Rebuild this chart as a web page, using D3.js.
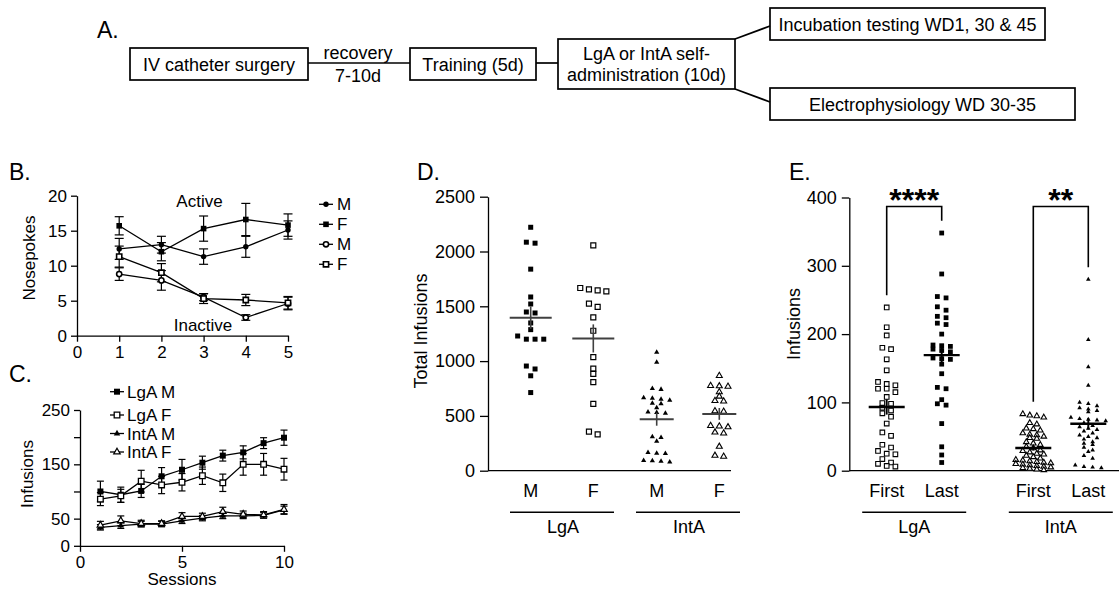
<html>
<head>
<meta charset="utf-8">
<script src="https://d3js.org/d3.v7.min.js"></script>
<style>
  body { margin: 0; background: #fff; }
  svg { font-family: "Liberation Sans", Arial, sans-serif; }
</style>
</head>
<body>
<script>
// ---------------- data ----------------
// A. timeline
var stepLabels = ["IV catheter surgery", "Training (5d)", "LgA or IntA self-|administration (10d)",
                  "Incubation testing WD1, 30 & 45", "Electrophysiology WD 30-35"];
var recoveryLabel = ["recovery", "7-10d"];

// B. nosepokes during training (mean, sem)
var sessionsB = [1, 2, 3, 4, 5];
var activeM = [12.4, 13.0, 11.3, 12.7, 15.1];
var activeMErr = [1.5, 1.2, 1.1, 1.5, 1.3];
var activeF = [15.7, 12.0, 15.3, 16.6, 15.8];
var activeFErr = [1.3, 1.3, 1.8, 2.3, 1.6];
var inactiveM = [8.8, 7.9, 5.5, 2.6, 4.6];
var inactiveMErr = [0.9, 1.4, 0.5, 0.4, 0.9];
var inactiveF = [11.3, 9.0, 5.3, 5.1, 4.7];
var inactiveFErr = [1.5, 1.3, 0.7, 0.8, 0.9];
var legendB = ["M", "F", "M", "F"];
var ticksBx = [0, 1, 2, 3, 4, 5];
var ticksBy = [0, 5, 10, 15, 20];

// C. infusions per session
var sessionsC = [1, 2, 3, 4, 5, 6, 7, 8, 9, 10];
var lgaM = [100, 94, 101, 128, 140, 153, 166, 172, 189, 199];
var lgaMErr = [19, 14, 12, 16, 19, 12, 10, 12, 10, 14];
var lgaF = [86, 92, 119, 112, 117, 129, 116, 150, 150, 141];
var lgaFErr = [12, 12, 20, 16, 16, 16, 16, 20, 20, 20];
var intaM = [34, 37, 40, 40, 46, 51, 55, 55, 56, 66];
var intaMErr = [5, 5, 5, 5, 5, 5, 5, 5, 5, 7];
var intaF = [38, 46, 41, 41, 54, 54, 63, 58, 57, 67];
var intaFErr = [7, 9, 6, 5, 7, 6, 8, 6, 6, 9];
var legendC = ["LgA M", "LgA F", "IntA M", "IntA F"];
var ticksCx = [0, 5, 10];
var ticksCy = [0, 50, 100, 150, 200, 250];
var labelsCy = [0, 50, 150, 250];

// D. total infusions per rat
var groupsD = ["LgA", "IntA"];
var sexD = ["M", "F"];
var dLgaM = [2221, 2085, 2076, 1839, 1585, 1521, 1448, 1439, 1348, 1287, 1229, 1200, 1200, 1200, 955, 928, 866, 713];
var dLgaF = [2055, 1667, 1655, 1645, 1636, 1524, 1494, 1399, 1277, 1037, 931, 884, 808, 610, 357, 332];
var dIntaM = [1080, 990, 750, 742, 665, 660, 652, 642, 615, 610, 575, 535, 530, 525, 310, 302, 268, 165, 160, 158, 92, 90, 86, 80];
var dIntaF = [866, 775, 772, 768, 718, 678, 638, 634, 545, 540, 410, 405, 398, 350, 342, 220, 138, 130];
var ticksDy = [0, 500, 1000, 1500, 2000, 2500];

// E. infusions, first vs last session
var groupsE = ["LgA", "IntA"];
var daysE = ["First", "Last"];
var eLgaFirst = [239, 210, 198, 180, 178, 163, 147, 130, 127, 125, 120, 120, 115, 108, 99, 98, 92, 88, 84, 79, 69, 56, 51, 38, 34, 29, 25, 24, 17, 12, 10, 7, 6];
var eLgaLast = [348, 288, 255, 253, 240, 235, 226, 224, 216, 214, 200, 184, 183, 182, 178, 176, 174, 165, 164, 163, 156, 142, 122, 120, 104, 98, 96, 69, 35, 23, 12];
var eIntaFirst = [83, 81, 80, 78, 70, 68, 62, 61, 59, 55, 53, 52, 50, 48, 47, 42, 40, 38, 35, 33, 30, 29, 27, 25, 24, 22, 20, 18, 16, 15, 14, 13, 12, 11, 10, 9, 8, 7, 6, 5, 4, 3, 2, 1];
var eIntaLast = [280, 192, 152, 125, 100, 98, 95, 92, 90, 88, 86, 78, 76, 75, 74, 73, 70, 66, 64, 62, 60, 58, 55, 52, 50, 48, 46, 42, 40, 38, 34, 30, 28, 22, 18, 8, 6, 5, 4];
var ticksEy = [0, 100, 200, 300, 400];
var starsE = ["****", "**"];

// ---------------- helpers ----------------
var svg = d3.select("body").append("svg")
    .attr("width", 1119)
    .attr("height", 594);

var intFmt = d3.format("d");

function sq(s) { return d3.symbol().type(d3.symbolSquare).size(s * s)(); }
function ci(r) { return d3.symbol().type(d3.symbolCircle).size(Math.PI * r * r)(); }
function tri(a) { return d3.symbol().type(d3.symbolTriangle).size(Math.sqrt(3) / 4 * a * a)(); }

function styleAxis(g, fs) {
    g.attr("font-family", null).attr("font-size", fs);
    g.selectAll("path, line").attr("stroke", "#000").attr("stroke-width", 1.3);
    g.selectAll("text").attr("fill", "#000");
}

function marker(g, m, x, y) {
    return g.append("path")
        .attr("d", m.d)
        .attr("transform", "translate(" + x + "," + y + ")")
        .attr("fill", m.fill)
        .attr("stroke", m.sw ? "#000" : "none")
        .attr("stroke-width", m.sw);
}

// line + sem error bars for one series
function lineSeries(g, xs, s, x, y, cap) {
    g.append("path").datum(s.v)
        .attr("d", d3.line().x(function(d, i) { return x(xs[i]); }).y(function(d) { return y(d); }))
        .attr("fill", "none").attr("stroke", "#000").attr("stroke-width", 1.3);
    var eb = g.append("g").attr("stroke", "#000").attr("stroke-width", 1.2);
    s.v.forEach(function(v, i) {
        var cx = x(xs[i]);
        eb.append("line").attr("x1", cx).attr("x2", cx).attr("y1", y(v - s.e[i])).attr("y2", y(v + s.e[i]));
        [v - s.e[i], v + s.e[i]].forEach(function(w) {
            eb.append("line").attr("x1", cx - cap).attr("x2", cx + cap).attr("y1", y(w)).attr("y2", y(w));
        });
    });
}

// prism-like scatter: points close in y share a row and are spread sideways
function swarm(values, y, gap, binPx) {
    var pts = values.map(function(v) { return {v: v, py: y(v)}; }).sort(function(a, b) { return a.py - b.py; });
    var rows = [];
    pts.forEach(function(p) {
        var last = rows[rows.length - 1];
        if (last && p.py - last[0].py < binPx) last.push(p); else rows.push([p]);
    });
    rows.forEach(function(r) { r.forEach(function(p, i) { p.dx = (i - (r.length - 1) / 2) * gap; }); });
    return pts;
}

function dotPlot(g, values, cx, y, m, hw, meanColor, meanW, gap) {
    swarm(values, y, gap || 8.7, 4).forEach(function(p) { marker(g, m, cx + p.dx, p.py); });
    var mean = d3.mean(values), sem = d3.deviation(values) / Math.sqrt(values.length);
    g.append("line").attr("x1", cx - hw).attr("x2", cx + hw).attr("y1", y(mean)).attr("y2", y(mean))
        .attr("stroke", meanColor).attr("stroke-width", meanW);
    g.append("line").attr("x1", cx).attr("x2", cx).attr("y1", y(mean - sem)).attr("y2", y(mean + sem))
        .attr("stroke", meanColor).attr("stroke-width", meanW * 0.8);
}

// ---------------- A. timeline ----------------
var A = svg.append("g").attr("font-size", 18);
A.append("text").attr("x", 97).attr("y", 38).attr("font-size", 23).text("A.");
function boxA(x, y, w, h) {
    A.append("rect").attr("x", x).attr("y", y).attr("width", w).attr("height", h)
        .attr("fill", "none").attr("stroke", "#000").attr("stroke-width", 1.7);
}
function linkA(x1, y1, x2, y2) {
    A.append("line").attr("x1", x1).attr("y1", y1).attr("x2", x2).attr("y2", y2)
        .attr("stroke", "#000").attr("stroke-width", 1.7);
}
function textA(x, y, t) {
    A.append("text").attr("x", x).attr("y", y).attr("text-anchor", "middle").text(t);
}
boxA(130, 48, 178, 32); textA(219, 70.5, stepLabels[0]);
linkA(308, 63, 410, 63); textA(358, 59, recoveryLabel[0]); textA(358, 82, recoveryLabel[1]);
boxA(410, 48, 126, 32); textA(473, 70.5, stepLabels[1]);
linkA(536, 63, 558, 63);
boxA(558, 39, 177, 50);
textA(646.5, 60, stepLabels[2].split("|")[0]);
textA(646.5, 81, stepLabels[2].split("|")[1]);
linkA(735, 39, 770, 26); boxA(770, 8, 275, 32); textA(907.5, 30.5, stepLabels[3]);
linkA(735, 89, 770, 102); boxA(770, 88, 305, 32); textA(922.5, 110.5, stepLabels[4]);

// ---------------- B. nosepokes ----------------
var xB = d3.scaleLinear().domain([0, 5]).range([77, 288]);
var yB = d3.scaleLinear().domain([0, 20]).range([335.7, 195.7]);
var B = svg.append("g").attr("font-size", 17);
B.append("text").attr("x", 9).attr("y", 180).attr("font-size", 23).text("B.");
B.append("g").attr("transform", "translate(0," + yB(0) + ")")
    .call(d3.axisBottom(xB).tickValues(ticksBx).tickFormat(intFmt).tickSize(6).tickPadding(4).tickSizeOuter(0))
    .call(styleAxis, 17);
B.append("g").attr("transform", "translate(" + xB(0) + ",0)")
    .call(d3.axisLeft(yB).tickValues(ticksBy).tickFormat(intFmt).tickSize(6).tickPadding(4).tickSizeOuter(0))
    .call(styleAxis, 17);
B.append("text").attr("transform", "translate(35," + 258 + ") rotate(-90)")
    .attr("text-anchor", "middle").text("Nosepokes");

var seriesB = [
    {v: activeM, e: activeMErr, m: {d: ci(2.7), fill: "#000", sw: 0}},
    {v: activeF, e: activeFErr, m: {d: sq(5.6), fill: "#000", sw: 0}},
    {v: inactiveM, e: inactiveMErr, m: {d: ci(2.6), fill: "#fff", sw: 1.6}},
    {v: inactiveF, e: inactiveFErr, m: {d: sq(5.2), fill: "#fff", sw: 1.6}}
];
seriesB.forEach(function(s) { lineSeries(B, sessionsB, s, xB, yB, 4.5); });
seriesB.forEach(function(s) { s.v.forEach(function(v, i) { marker(B, s.m, xB(sessionsB[i]), yB(v)); }); });
B.append("text").attr("x", 199.5).attr("y", 206.7).attr("text-anchor", "middle").text("Active");
B.append("text").attr("x", 203).attr("y", 330.7).attr("text-anchor", "middle").text("Inactive");

legendB.forEach(function(t, i) {
    var ly = 204.3 + i * 20;
    B.append("line").attr("x1", 319).attr("x2", 333).attr("y1", ly).attr("y2", ly)
        .attr("stroke", "#000").attr("stroke-width", 1.3);
    marker(B, seriesB[i].m, 326, ly);
    B.append("text").attr("x", 337).attr("y", ly + 6).text(t);
});

// ---------------- C. infusions per session ----------------
var xC = d3.scaleLinear().domain([0, 10]).range([80, 284]);
var yC = d3.scaleLinear().domain([0, 250]).range([545.8, 410]);
var C = svg.append("g").attr("font-size", 17);
C.append("text").attr("x", 9).attr("y", 382).attr("font-size", 23).text("C.");
C.append("g").attr("transform", "translate(0," + yC(0) + ")")
    .call(d3.axisBottom(xC).tickValues(ticksCx).tickFormat(intFmt).tickSize(6).tickPadding(4).tickSizeOuter(0))
    .call(styleAxis, 17);
C.append("g").attr("transform", "translate(" + xC(0) + ",0)")
    .call(d3.axisLeft(yC).tickValues(ticksCy).tickSize(6).tickPadding(4).tickSizeOuter(0)
        .tickFormat(function(d) { return labelsCy.indexOf(d) >= 0 ? intFmt(d) : ""; }))
    .call(styleAxis, 17);
C.append("text").attr("transform", "translate(33,474) rotate(-90)")
    .attr("text-anchor", "middle").text("Infusions");
C.append("text").attr("x", xC(5)).attr("y", 585).attr("text-anchor", "middle").text("Sessions");

var seriesC = [
    {v: lgaM, e: lgaMErr, m: {d: sq(6), fill: "#000", sw: 0}},
    {v: lgaF, e: lgaFErr, m: {d: sq(5.6), fill: "#fff", sw: 1.3}},
    {v: intaM, e: intaMErr, m: {d: tri(6.5), fill: "#000", sw: 0}},
    {v: intaF, e: intaFErr, m: {d: tri(6.5), fill: "#fff", sw: 1.2}}
];
seriesC.forEach(function(s) { lineSeries(C, sessionsC, s, xC, yC, 3.5); });
seriesC.forEach(function(s) { s.v.forEach(function(v, i) { marker(C, s.m, xC(sessionsC[i]), yC(v)); }); });

var legendCy = [391.7, 415, 433.5, 452];
legendC.forEach(function(t, i) {
    var ly = legendCy[i];
    C.append("line").attr("x1", 110).attr("x2", 124).attr("y1", ly).attr("y2", ly)
        .attr("stroke", "#000").attr("stroke-width", 1.3);
    marker(C, seriesC[i].m, 117, ly);
    C.append("text").attr("x", 127).attr("y", ly + 6).text(t);
});

// ---------------- D. total infusions ----------------
var yD = d3.scaleLinear().domain([0, 2500]).range([470.7, 196.7]);
var xDg = d3.scalePoint().domain(groupsD).range([562, 688]);
var xDs = d3.scalePoint().domain(sexD).range([-31.3, 31.3]);
var D = svg.append("g").attr("font-size", 18);
D.append("text").attr("x", 417).attr("y", 180).attr("font-size", 23).text("D.");
D.append("g").attr("transform", "translate(488,0)")
    .call(d3.axisLeft(yD).tickValues(ticksDy).tickFormat(intFmt).tickSize(8).tickPadding(5).tickSizeOuter(0))
    .call(styleAxis, 18);
D.append("line").attr("x1", 488).attr("x2", 731).attr("y1", yD(0)).attr("y2", yD(0))
    .attr("stroke", "#000").attr("stroke-width", 1.3);
D.append("text").attr("transform", "translate(427,331) rotate(-90)")
    .attr("text-anchor", "middle").text("Total Infusions");

var dataD = {LgA: {M: dLgaM, F: dLgaF}, IntA: {M: dIntaM, F: dIntaF}};
var markD = {
    LgA: {M: {d: sq(5), fill: "#000", sw: 0}, F: {d: sq(5), fill: "#fff", sw: 1.2}},
    IntA: {M: {d: tri(5.2), fill: "#000", sw: 0}, F: {d: tri(6), fill: "#fff", sw: 1.1}}
};
groupsD.forEach(function(grp) {
    var gx = xDg(grp);
    sexD.forEach(function(s) {
        dotPlot(D, dataD[grp][s], gx + xDs(s), yD, markD[grp][s], grp === "LgA" ? 21 : 17, "#404040", 2);
        D.append("text").attr("x", gx + xDs(s)).attr("y", 497).attr("text-anchor", "middle").text(s);
    });
    D.append("line").attr("x1", gx - 52).attr("x2", gx + 52).attr("y1", 512.3).attr("y2", 512.3)
        .attr("stroke", "#000").attr("stroke-width", 1.5);
    D.append("text").attr("x", gx + 1).attr("y", 533).attr("text-anchor", "middle").text(grp);
});

// ---------------- E. first vs last session ----------------
var yE = d3.scaleLinear().domain([0, 400]).range([470.7, 197.5]);
var xEg = d3.scalePoint().domain(groupsE).range([914.2, 1060.8]);
var xEd = d3.scalePoint().domain(daysE).range([-27.5, 27.5]);
var E = svg.append("g").attr("font-size", 18);
E.append("text").attr("x", 789).attr("y", 180).attr("font-size", 23).text("E.");
E.append("g").attr("transform", "translate(849.3,0)")
    .call(d3.axisLeft(yE).tickValues(ticksEy).tickFormat(intFmt).tickSize(7.5).tickPadding(5).tickSizeOuter(0))
    .call(styleAxis, 18);
E.append("line").attr("x1", 849.3).attr("x2", 1119).attr("y1", yE(0)).attr("y2", yE(0))
    .attr("stroke", "#000").attr("stroke-width", 1.3);
E.append("text").attr("transform", "translate(800,324) rotate(-90)")
    .attr("text-anchor", "middle").text("Infusions");

var dataE = {LgA: {First: eLgaFirst, Last: eLgaLast}, IntA: {First: eIntaFirst, Last: eIntaLast}};
var markE = {
    LgA: {First: {d: sq(4.6), fill: "#fff", sw: 1.1}, Last: {d: sq(4.8), fill: "#000", sw: 0}},
    IntA: {First: {d: tri(5.6), fill: "#fff", sw: 1.1}, Last: {d: tri(4.6), fill: "#000", sw: 0}}
};
groupsE.forEach(function(grp, gi) {
    var gx = xEg(grp);
    daysE.forEach(function(dd) {
        var gap = (grp === "IntA" && dd === "First") ? 7 : 8.7;
        dotPlot(E, dataE[grp][dd], gx + xEd(dd), yE, markE[grp][dd], 18, "#000", 2.4, gap);
        E.append("text").attr("x", gx + xEd(dd)).attr("y", 497).attr("text-anchor", "middle").text(dd);
    });
    E.append("line").attr("x1", gx - 52).attr("x2", gx + 52).attr("y1", 512.3).attr("y2", 512.3)
        .attr("stroke", "#000").attr("stroke-width", 1.5);
    E.append("text").attr("x", gx).attr("y", 533).attr("text-anchor", "middle").text(grp);

    // significance bracket
    var x1 = gx + xEd("First"), x2 = gx + xEd("Last");
    var top = yE(400) + 9;
    var leg1 = yE(d3.max(dataE[grp].First) + 18), leg2 = yE(d3.max(dataE[grp].Last) + 18);
    E.append("path").attr("d", "M" + x1 + "," + leg1 + "V" + top + "H" + x2 + "V" + leg2)
        .attr("fill", "none").attr("stroke", "#000").attr("stroke-width", 1.6);
    E.append("text").attr("x", (x1 + x2) / 2).attr("y", top + 4).attr("text-anchor", "middle")
        .attr("font-size", 32).attr("font-weight", "bold").text(starsE[gi]);
});
</script>
</body>
</html>
